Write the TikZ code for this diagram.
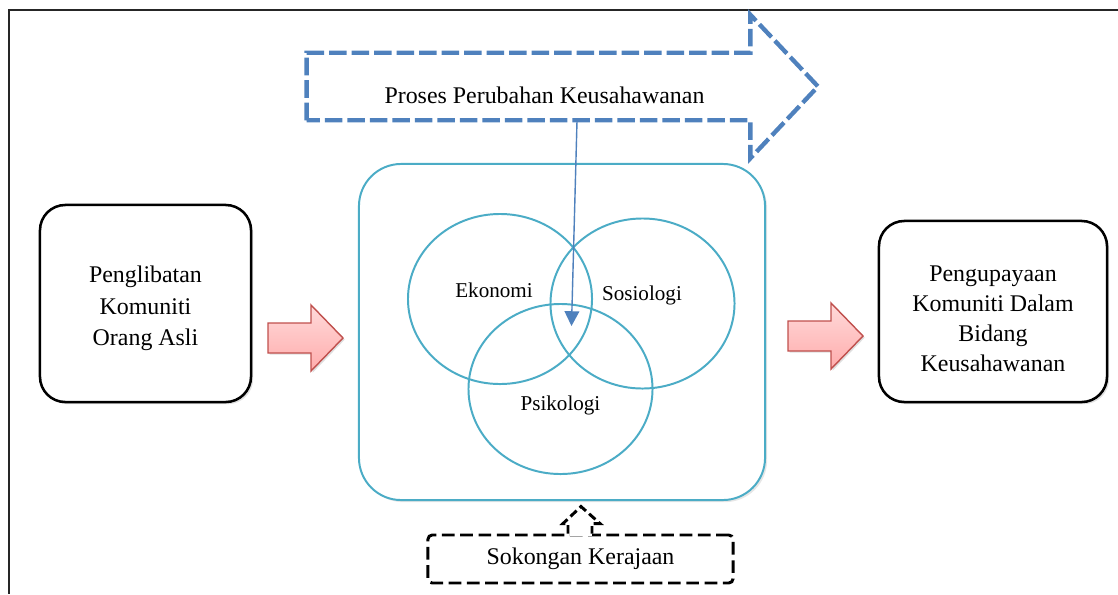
\documentclass[tikz,border=0pt]{standalone}
\usepackage{fontspec}
\setmainfont{Liberation Serif}
\usepackage{tikz}
\usetikzlibrary{shapes.geometric, arrows.meta, positioning, calc, shadows}
\definecolor{venncolor}{RGB}{75, 172, 198}
\definecolor{processcolor}{RGB}{79, 129, 189}
\definecolor{arrowedge}{RGB}{192, 80, 77}
\definecolor{arrowtop}{RGB}{255, 218, 218}
\definecolor{arrowbottom}{RGB}{255, 172, 172}

\tikzset{
    pics/redarrow/.style={code={
        \draw[blockarrow] (-37.5,-15) -- (5.5,-15) -- (5.5,-33) -- (37.5,0)
            -- (5.5,33) -- (5.5,15) -- (-37.5,15) -- cycle;
    }}
}

\begin{document}
\begin{tikzpicture}[
    x=0.025cm, y=-0.025cm,
    frame/.style={line width=1.5pt, draw=black!85},
    sidebox/.style={draw, line width=1.8pt, rounded corners=18pt, fill=white,
        drop shadow={opacity=0.25, shadow xshift=1.5pt, shadow yshift=-1.5pt}},
    boxtext/.style={align=center, font=\fontsize{17}{22.5}\selectfont},
    vennbox/.style={draw=venncolor, line width=1.4pt, rounded corners=30pt, fill=white,
        drop shadow={opacity=0.2, shadow xshift=1.5pt, shadow yshift=-1.5pt}},
    vennset/.style={ellipse, draw=venncolor, line width=1.4pt, minimum width=4.6cm, minimum height=4.25cm, inner sep=0pt},
    vennlabel/.style={font=\fontsize{15}{18}\selectfont},
    processarrow/.style={draw=processcolor, line width=3.1pt, dash pattern=on 12.5pt off 3.5pt, line join=miter},
    flowarrow/.style={draw=processcolor, line width=1pt, -{Triangle[length=10.5pt, width=10.5pt]}},
    blockarrow/.style={draw=arrowedge, line width=1pt, top color=arrowtop, bottom color=arrowbottom,
        drop shadow={opacity=0.25, shadow xshift=1.2pt, shadow yshift=-1.2pt}},
    supportbox/.style={draw, line width=2.1pt, dash pattern=on 9pt off 4pt, rounded corners=3pt,
        minimum width=7.625cm, minimum height=1.2cm, font=\fontsize{17}{22}\selectfont},
    supportarrow/.style={draw, line width=2.1pt, dash pattern=on 6pt off 3pt, line join=miter}
]
    \useasboundingbox (0,0) rectangle (1118,594);
    \draw[frame] (1118,10) -- (9,10) -- (9,594);

    % Main entities
    \node[sidebox, minimum width=5.275cm, minimum height=4.925cm] (penglibatan) at (145.5,303.5) {};
    \node[boxtext] (penglibatanText) at ($(penglibatan.center)+(0,5)$)
        {Penglibatan\\Komuniti\\Orang Asli};
    \node[sidebox, minimum width=5.7cm, minimum height=4.525cm] (pengupayaan) at (993,311.5) {};
    \node[boxtext, font=\fontsize{17}{21.3}\selectfont] (pengupayaanText) at ($(pengupayaan.center)+(0,7)$)
        {Pengupayaan\\Komuniti Dalam\\Bidang\\Keusahawanan};
    \node[vennbox, minimum width=10.15cm, minimum height=8.4cm] (kerangka) at (562,332) {};

    % Venn sets
    \node[vennset] (ekonomi) at (500,299) {};
    \node[vennset] (sosiologi) at (642.5,303.5) {};
    \node[vennset] (psikologi) at (560.5,389) {};
    \node[vennlabel] (ekonomiText) at (494,290) {Ekonomi};
    \node[vennlabel] (sosiologiText) at (642,295) {Sosiologi};
    \node[vennlabel] (psikologiText) at (560.5,405) {Psikologi};

    % Process arrow
    \node[minimum width=11.075cm, minimum height=1.675cm, inner sep=0pt] (proses) at (528.5,86.5) {};
    \draw[processarrow] (proses.south west) -- (proses.north west) -- (proses.north east) -- ++(0,-38)
        -- (818,86.5) -- ($(proses.south east)+(0,38)$) -- (proses.south east) -- cycle;
    \node[font=\fontsize{17}{22}\selectfont] (prosesText) at (544.5,95) {Proses Perubahan Keusahawanan};
    \coordinate (prosesTail) at (577,121);
    \coordinate (vennCore) at (571.5,326);
    \draw[flowarrow] (prosesTail) -- (vennCore);

    % Input / output
    \pic at (305.5,338) {redarrow};
    \pic at (825.5,336) {redarrow};

    % Support
    \node[supportbox] (sokongan) at (580.5,559) {Sokongan Kerajaan};
    \fill[white] ($(sokongan.north)+(-11,-2.5)$) rectangle ($(sokongan.north)+(11,2.5)$);
    \draw[supportarrow] ($(sokongan.north)+(-12.5,0)$) -- ++(0,-10) -- ++(-5,0) -- ++(18,-17)
        -- ++(19,17) -- ++(-8,0) -- ++(0,10);
\end{tikzpicture}
\end{document}
